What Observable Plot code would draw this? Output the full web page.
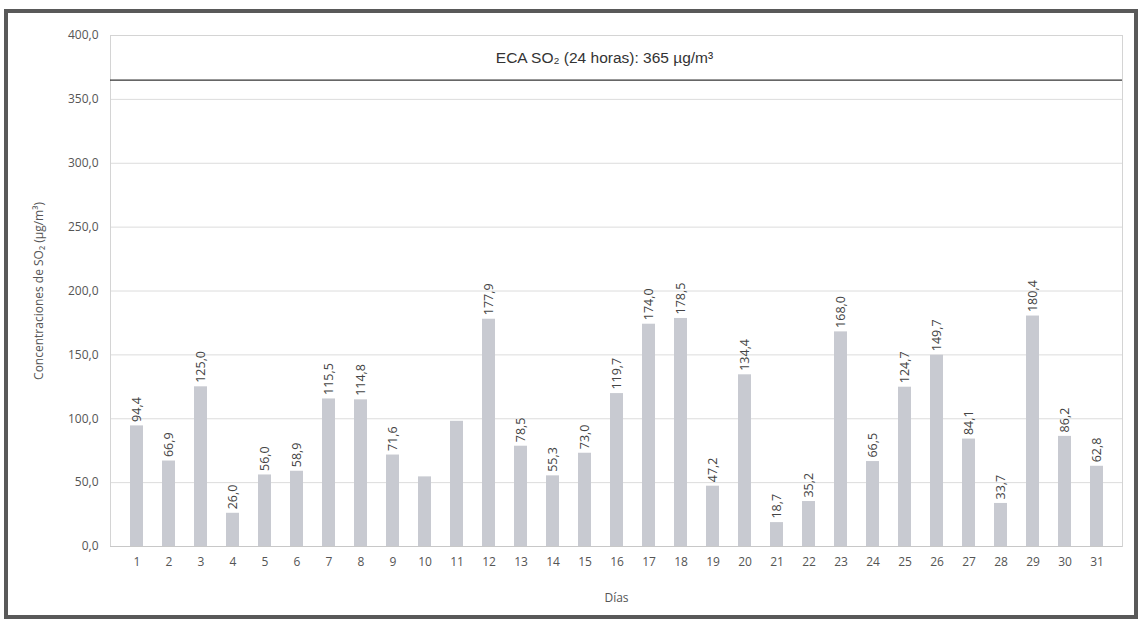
<!DOCTYPE html>
<html>
<head>
<meta charset="utf-8">
<script src="https://cdn.jsdelivr.net/npm/d3@7"></script>
<script src="https://cdn.jsdelivr.net/npm/@observablehq/plot@0.6"></script>
<style>
  html, body { margin: 0; padding: 0; background: #fff; }
  #wrap { position: relative; width: 1144px; height: 626px; overflow: hidden; }
  #frame { position: absolute; left: 4px; top: 9px; width: 1134px; height: 610px; border: 4px solid #595959; box-sizing: border-box; pointer-events: none; }
  #chart { position: absolute; left: 0; top: 0; }
</style>
</head>
<body>
<div id="wrap"><div id="chart"></div><div id="frame"></div></div>
<script>
const days = [1,2,3,4,5,6,7,8,9,10,11,12,13,14,15,16,17,18,19,20,21,22,23,24,25,26,27,28,29,30,31];
const values = [94.4,66.9,125.0,26.0,56.0,58.9,115.5,114.8,71.6,54.5,98.0,177.9,78.5,55.3,73.0,119.7,174.0,178.5,47.2,134.4,18.7,35.2,168.0,66.5,124.7,149.7,84.1,33.7,180.4,86.2,62.8];
const unlabeledDays = [10, 11];
const yTicks = [0, 50, 100, 150, 200, 250, 300, 350, 400];
const ecaValue = 365;
const ecaLabel = "ECA SO\u2082 (24 horas): 365 \u00b5g/m\u00b3";
const yLabel = "Concentraciones de SO\u2082 (\u00b5g/m\u00b3)";
const xLabel = "Días";

const fmt = v => v.toFixed(1).replace(".", ",");
const data = days.map((d, i) => ({day: d, value: values[i], label: unlabeledDays.includes(d) ? "" : fmt(values[i])}));

const chart = Plot.plot({
  width: 1144,
  height: 626,
  marginLeft: 110,
  marginRight: 22,
  marginTop: 35,
  marginBottom: 80,
  style: {fontFamily: "'Open Sans', sans-serif", fontSize: "12px", color: "#555", background: "transparent"},
  x: {type: "band", domain: days, paddingInner: 0.6, paddingOuter: 0.43, label: xLabel, labelAnchor: "center", labelOffset: 55, labelArrow: "none", tickSize: 0, tickPadding: 11},
  y: {domain: [0, 400], ticks: yTicks, tickFormat: fmt, label: yLabel, labelAnchor: "center", labelOffset: 76, labelArrow: "none", tickSize: 0, tickPadding: 12},
  marks: [
    Plot.gridY(yTicks, {stroke: "#dcdcdc", strokeOpacity: 1}),
    Plot.frame({stroke: "#d4d4d4"}),
    Plot.barY(data, {x: "day", y: "value", fill: "#c8cad1"}),
    Plot.ruleY([0], {stroke: "#c8c8c8"}),
    Plot.ruleY([ecaValue], {stroke: "#333", strokeWidth: 1.3}),
    Plot.text([ecaLabel], {frameAnchor: "top", dx: -12, dy: 16, text: d => d, fontFamily: "'Liberation Sans', Arial, sans-serif", fontSize: 15.5, fill: "#333"}),
    Plot.text(data, {x: "day", y: "value", text: "label", rotate: -90, textAnchor: "start", dy: -4, fill: "#444", fontSize: 12.5})
  ]
});
document.getElementById("chart").appendChild(chart);
</script>
</body>
</html>
